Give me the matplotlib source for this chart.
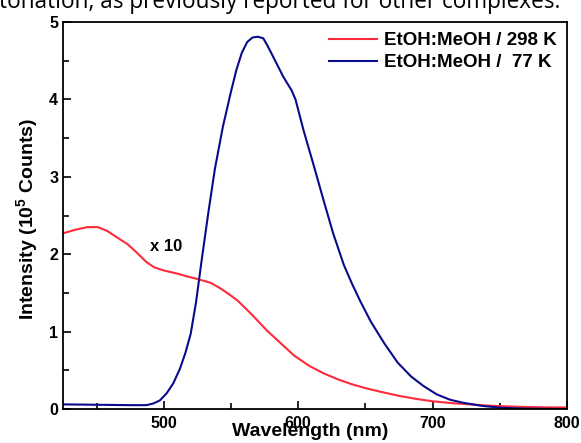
import numpy as np
import matplotlib
matplotlib.use('Agg')
import matplotlib.pyplot as plt
from matplotlib.ticker import MultipleLocator

plt.rcParams['font.family'] = 'Liberation Sans'
plt.rcParams['font.weight'] = 'bold'
plt.rcParams['mathtext.default'] = 'regular'

# EtOH:MeOH / 298 K (shown x 10)
wl_rt = [425, 435, 443, 451, 458, 465, 473, 480, 487, 493, 500, 510, 518, 525, 535,
         542, 548, 555, 565, 577, 587, 597, 608, 619, 630, 640, 650, 662, 675, 688,
         700, 715, 728, 740, 753, 765, 780, 800]
int_rt = [2.27, 2.32, 2.35, 2.35, 2.30, 2.22, 2.13, 2.02, 1.90, 1.83, 1.79, 1.75, 1.71,
          1.68, 1.63, 1.56, 1.49, 1.40, 1.23, 1.01, 0.85, 0.69, 0.56, 0.46, 0.38, 0.32,
          0.27, 0.22, 0.17, 0.13, 0.10, 0.075, 0.06, 0.045, 0.035, 0.028, 0.022, 0.02]

# EtOH:MeOH / 77 K
wl_77 = [425, 450, 475, 487, 492, 497, 502, 507, 512, 516, 520, 524, 528, 533, 538, 544,
         550, 554, 558, 562, 566, 570, 574, 577, 582, 589, 595, 598, 604, 612, 619, 626,
         634, 640, 646, 654, 664, 674, 684, 693, 703, 713, 723, 737, 752, 770, 800]
int_77 = [0.06, 0.055, 0.05, 0.05, 0.07, 0.11, 0.2, 0.33, 0.52, 0.72, 0.97, 1.38, 1.9,
          2.52, 3.1, 3.65, 4.1, 4.38, 4.6, 4.74, 4.8, 4.81, 4.79, 4.70, 4.53, 4.29, 4.12,
          4.0, 3.60, 3.12, 2.69, 2.27, 1.86, 1.62, 1.40, 1.13, 0.85, 0.6, 0.42, 0.3,
          0.19, 0.12, 0.08, 0.04, 0.015, 0.005, 0.0]

labels = ['EtOH:MeOH / 298 K', 'EtOH:MeOH /  77 K']

fig = plt.figure(figsize=(5.81, 4.43), dpi=100)
ax = fig.add_axes([0.1084, 0.0767, 0.8675, 0.8736])

ax.plot(wl_rt, int_rt, color='#ff2a3a', lw=1.5, label=labels[0])
ax.plot(wl_77, int_77, color='#0a0a8c', lw=1.5, label=labels[1])

ax.set_xlim(425, 800)
ax.set_ylim(0, 5)
ax.xaxis.set_major_locator(MultipleLocator(100))
ax.xaxis.set_minor_locator(MultipleLocator(50))
ax.yaxis.set_major_locator(MultipleLocator(1))
ax.yaxis.set_minor_locator(MultipleLocator(0.5))
ax.tick_params(which='both', direction='in', top=False, right=False, width=1.2,
               labelsize=11.5)
ax.tick_params(which='major', length=6)
ax.tick_params(which='minor', length=4)
ax.tick_params(axis='x', pad=5)
for s in ax.spines.values():
    s.set_linewidth(1.3)

ax.set_xlabel('Wavelength (nm)', fontsize=14, fontweight='bold')
ax.xaxis.set_label_coords(0.49, -0.037)
ax.set_ylabel('Intensity (10$^5$ Counts)', fontsize=14, fontweight='bold')
ax.yaxis.set_label_coords(-0.045, 0.49)

ax.text(490, 2.10, 'x 10', fontsize=12, fontweight='bold', va='center', ha='left')

ax.legend(loc='upper right', frameon=False, fontsize=13.5, handlelength=2.6,
          handletextpad=0.35, borderaxespad=0.15, labelspacing=0.25)

fig.text(-0.002, 1 - 7.5 / 443, 'tonation, as previously reported for other complexes.',
         fontsize=16.3, fontweight='normal', family='Open Sans', va='baseline', ha='left')

fig.savefig('out.png', dpi=100)
